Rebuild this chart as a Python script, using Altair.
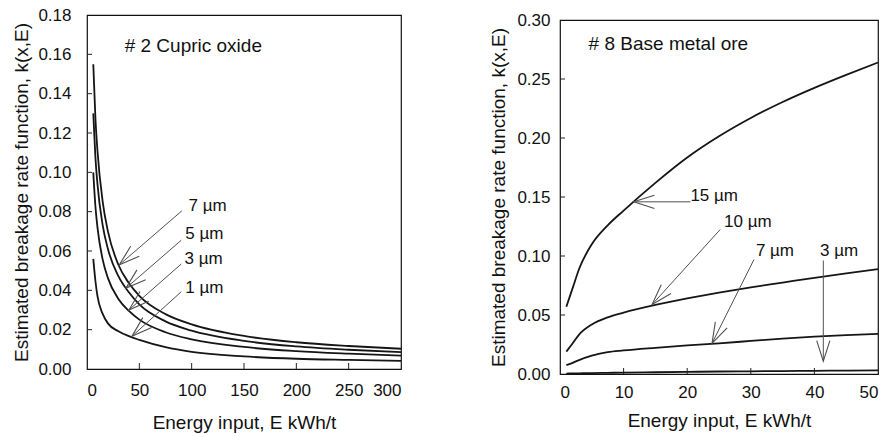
import math
import altair as alt
import pandas as pd

FONT = "Liberation Sans"

# ---------------- Left panel: #2 Cupric oxide ----------------
left_E = [6, 8, 10, 15, 20, 30, 40, 50, 75, 100, 150, 200, 250, 300]
left_k_7um = [0.155, 0.128, 0.111, 0.085, 0.070, 0.0530, 0.0437, 0.0372, 0.0279, 0.0227, 0.0168, 0.0136, 0.0117, 0.0103]
left_k_5um = [0.130, 0.108, 0.094, 0.073, 0.061, 0.0472, 0.0390, 0.0328, 0.0242, 0.0195, 0.0143, 0.0115, 0.0098, 0.0086]
left_k_3um = [0.100, 0.083, 0.072, 0.0556, 0.0462, 0.0356, 0.0295, 0.0251, 0.0187, 0.0151, 0.0112, 0.0091, 0.0078, 0.0068]
left_k_1um = [0.056, 0.045, 0.037, 0.028, 0.0232, 0.0192, 0.0167, 0.0148, 0.0111, 0.0087, 0.0064, 0.0052, 0.0046, 0.0041]
left_x_ticks = [0, 50, 100, 150, 200, 250, 300]
left_y_ticks = [0.00, 0.02, 0.04, 0.06, 0.08, 0.10, 0.12, 0.14, 0.16, 0.18]
left_labels = ["7 \u00b5m", "5 \u00b5m", "3 \u00b5m", "1 \u00b5m"]
left_label_x = [97.0, 93.9, 93.2, 93.9]
left_label_y = [0.0830, 0.0686, 0.0559, 0.0412]
left_tail_x = [90.6, 90.1, 90.1, 90.1]
left_tail_y = [0.0804, 0.0655, 0.0534, 0.0393]
left_tip_x = [30.9, 37.0, 40.0, 42.9]
left_tip_y = [0.0530, 0.0410, 0.0300, 0.0166]
left_title = "# 2 Cupric oxide"
left_title_pos = (36.0, 0.1643)

# ---------------- Right panel: #8 Base metal ore ----------------
right_E = [1, 2, 3, 5, 7.5, 10, 15, 20, 25, 30, 35, 40, 45, 50]
right_k_15um = [0.057, 0.073, 0.089, 0.110, 0.126, 0.1385, 0.162, 0.1835, 0.2015, 0.217, 0.2305, 0.2425, 0.2535, 0.264]
right_k_10um = [0.019, 0.026, 0.0334, 0.042, 0.048, 0.052, 0.0585, 0.064, 0.069, 0.0735, 0.0775, 0.0815, 0.0853, 0.0888]
right_k_7um = [0.0075, 0.0095, 0.0118, 0.0155, 0.0186, 0.0200, 0.0222, 0.0242, 0.0260, 0.0280, 0.0300, 0.0316, 0.0329, 0.0340]
right_k_3um = [0.0004, 0.0005, 0.0006, 0.0008, 0.0010, 0.0012, 0.0015, 0.0018, 0.0021, 0.0023, 0.0025, 0.0027, 0.0029, 0.0031]
right_x_ticks = [0, 10, 20, 30, 40, 50]
right_y_ticks = [0.00, 0.05, 0.10, 0.15, 0.20, 0.25, 0.30]
right_labels = ["15 \u00b5m", "10 \u00b5m", "7 \u00b5m", "3 \u00b5m"]
right_label_x = [20.5, 25.8, 30.8, 40.9]
right_label_y = [0.1507, 0.1290, 0.1040, 0.1040]
right_tail_x = [20.5, 25.2, 30.5, 41.4]
right_tail_y = [0.1459, 0.1225, 0.0970, 0.0962]
right_tip_x = [11.6, 14.5, 23.9, 41.4]
right_tip_y = [0.1459, 0.0590, 0.0260, 0.0108]
right_title = "# 8 Base metal ore"
right_title_pos = (4.5, 0.2794)

X_TITLE = "Energy input, E kWh/t"
Y_TITLE = "Estimated breakage rate function, k(x,E)"

LW, LH = 314, 354
RW, RH = 318, 354


def panel(E, series, xdom, ydom, xticks, yticks, w, h,
          labels, lx, ly, tx, ty, px, py, title, tpos,
          ylabpad, ytitlepad, xlabpad, xtitlepad):
    X = alt.X("x:Q", scale=alt.Scale(domain=xdom, nice=False, zero=False),
              axis=alt.Axis(values=xticks, title=X_TITLE, format="d", ticks=False,
                            tickSize=0, domain=False, grid=False,
                            labelPadding=xlabpad, titlePadding=xtitlepad))
    Y = alt.Y("y:Q", scale=alt.Scale(domain=ydom, nice=False, zero=False),
              axis=alt.Axis(values=yticks, title=Y_TITLE, format=".2f", ticks=False,
                            tickSize=0, domain=False, grid=False,
                            labelPadding=ylabpad, titlePadding=ytitlepad))

    rows = []
    for name, vals in series.items():
        for e, v in zip(E, vals):
            rows.append({"x": e, "y": v, "s": name})
    curves = alt.Chart(pd.DataFrame(rows)).mark_line(
        color="#151515", strokeWidth=1.8, interpolate="monotone"
    ).encode(x=X, y=Y, detail="s:N")

    xt = alt.Chart(pd.DataFrame({"x": xticks[1:-1]})).mark_rule(
        color="#222", strokeWidth=1).encode(x=X, y=alt.value(h), y2=alt.value(h - 6))
    yt = alt.Chart(pd.DataFrame({"y": yticks[1:-1]})).mark_rule(
        color="#222", strokeWidth=1).encode(y=Y, x=alt.value(0), x2=alt.value(5))

    arrows = alt.Chart(pd.DataFrame({"x": px, "y": py, "x2": tx, "y2": ty})).mark_rule(
        color="#505050", strokeWidth=1).encode(x=X, y=Y, x2="x2:Q", y2="y2:Q")

    angs = []
    for a, b, c, d in zip(px, py, tx, ty):
        dx = (c - a) / (xdom[1] - xdom[0]) * w
        dy = -(d - b) / (ydom[1] - ydom[0]) * h
        angs.append(math.degrees(math.atan2(dy, dx)) % 360)
    heads = alt.Chart(pd.DataFrame({"x": tx, "y": ty, "ang": angs})).mark_point(
        shape="M-1,-0.32L0,0L-1,0.32", filled=False, size=1700, strokeWidth=1.1,
        color="#505050", opacity=1).encode(
        x=X, y=Y, angle=alt.Angle("ang:Q", scale=None))

    texts = alt.Chart(pd.DataFrame({"x": lx, "y": ly, "t": labels})).mark_text(
        align="left", baseline="middle", font=FONT, fontSize=17, color="#111"
    ).encode(x=X, y=Y, text="t:N")

    ttl = alt.Chart(pd.DataFrame({"x": [tpos[0]], "y": [tpos[1]], "t": [title]})).mark_text(
        align="left", baseline="middle", font=FONT, fontSize=19, color="#111"
    ).encode(x=X, y=Y, text="t:N")

    return alt.layer(curves, xt, yt, arrows, heads, texts, ttl).properties(width=w, height=h)


left = panel(left_E, {"7": left_k_7um, "5": left_k_5um, "3": left_k_3um, "1": left_k_1um},
             [0, 300], [0, 0.18], left_x_ticks, left_y_ticks, LW, LH,
             left_labels, left_label_x, left_label_y, left_tip_x, left_tip_y,
             left_tail_x, left_tail_y, left_title, left_title_pos,
             ylabpad=16, ytitlepad=6, xlabpad=13, xtitlepad=15)

right = panel(right_E, {"15": right_k_15um, "10": right_k_10um, "7": right_k_7um, "3": right_k_3um},
              [0, 50], [0, 0.30], right_x_ticks, right_y_ticks, RW, RH,
              right_labels, right_label_x, right_label_y, right_tip_x, right_tip_y,
              right_tail_x, right_tail_y, right_title, right_title_pos,
              ylabpad=10, ytitlepad=8, xlabpad=10, xtitlepad=11)

spacer = alt.Chart(pd.DataFrame({"a": [0]})).mark_point(opacity=0).encode(
    x=alt.value(0), y=alt.value(0)).properties(
    width=RW, height=1, view=alt.ViewBackground(stroke="transparent"))

right_col = alt.vconcat(spacer, right, spacing=4, bounds="flush")

chart = alt.hconcat(left, right_col, spacing=83).properties(
    padding={"left": 12, "top": 5, "right": 5, "bottom": 5},
    background="white",
).configure_view(
    stroke="#111", strokeWidth=1.2
).configure_axis(
    labelFont=FONT, labelFontSize=17, labelColor="#111",
    titleFont=FONT, titleFontSize=19, titleFontWeight="normal", titleColor="#111",
)

chart.save("out.html", embed_options={"renderer": "svg", "actions": False})
